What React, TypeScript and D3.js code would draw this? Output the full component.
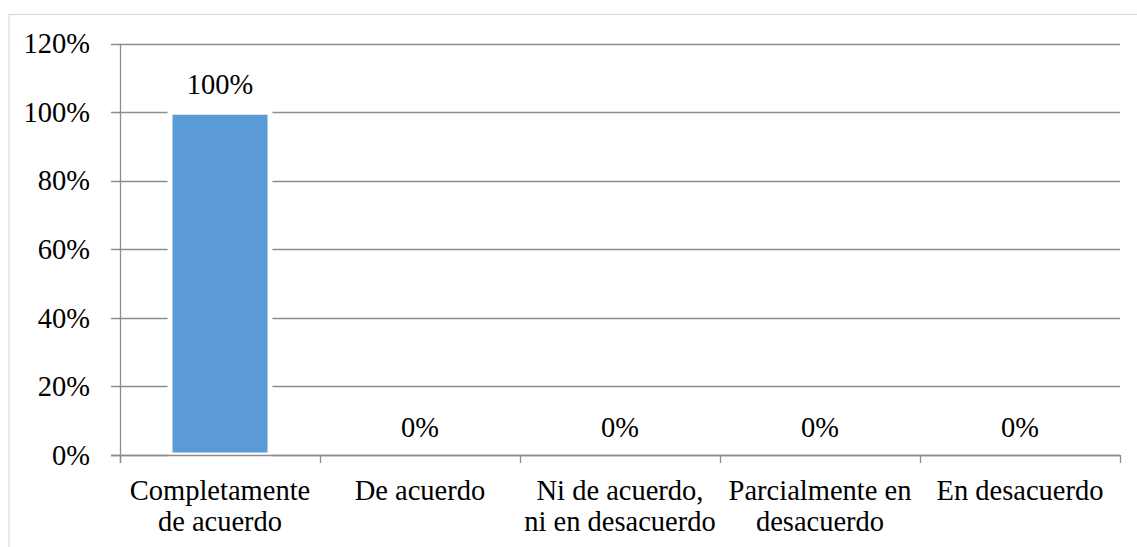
import React from "react";
import * as d3 from "d3";

const categories: string[][] = [
  ["Completamente", "de acuerdo"],
  ["De acuerdo"],
  ["Ni de acuerdo,", "ni en desacuerdo"],
  ["Parcialmente en", "desacuerdo"],
  ["En desacuerdo"],
];
const values: number[] = [1, 0, 0, 0, 0];
const valueLabels: string[] = ["100%", "0%", "0%", "0%", "0%"];
const yTicks: number[] = [0, 0.2, 0.4, 0.6, 0.8, 1.0, 1.2];

const W = 1137;
const H = 547;
const FONT = '"Liberation Serif", serif';
const textStyle: React.CSSProperties = { fontFamily: FONT, fontSize: "28.5px" };

export default function App() {
  const keys = categories.map((c) => c.join(" "));
  const x = d3
    .scaleBand<string>()
    .domain(keys)
    .range([120, 1120])
    .paddingInner(0.5)
    .paddingOuter(0.25);
  const y = d3.scaleLinear().domain([0, 1.2]).range([455, 43.7]);
  const step = x.step();
  const fmt = d3.format(".0%");
  const tickXs = keys.map((k) => (x(k) as number) - step * 0.25).concat([1120]);

  return (
    <svg
      width={W}
      height={H}
      style={{ position: "absolute", left: 0, top: 0, background: "#fff" }}
    >
      <rect x={9} y={14.5} width={W + 20} height={H + 20} fill="#fff" stroke="#d9d9d9" strokeWidth={1.2} />
      {yTicks.map((t) => (
        <g key={t}>
          <line
            x1={111}
            x2={1120}
            y1={Math.round(y(t)) + 0.5}
            y2={Math.round(y(t)) + 0.5}
            stroke="#8c8c8c"
            strokeWidth={1.3}
          />
          <text x={90} y={y(t) + 9.6} textAnchor="end" style={textStyle} fill="#000">
            {fmt(t)}
          </text>
        </g>
      ))}
      {values.map((v, i) =>
        v > 0 ? (
          <rect
            key={i}
            x={x(keys[i]) as number}
            y={y(v)}
            width={x.bandwidth()}
            height={y(0) - y(v)}
            fill="#5b9bd5"
            stroke="#fff"
            strokeWidth={5}
          />
        ) : null
      )}
      <line x1={120.5} x2={120.5} y1={y(1.2)} y2={463} stroke="#8c8c8c" strokeWidth={1.3} />
      <line x1={111} x2={1120} y1={Math.round(y(0)) + 0.5} y2={Math.round(y(0)) + 0.5} stroke="#8c8c8c" strokeWidth={1.3} />
      {tickXs.map((tx, i) => (
        <line key={i} x1={Math.round(tx) + 0.5} x2={Math.round(tx) + 0.5} y1={y(0)} y2={463} stroke="#8c8c8c" strokeWidth={1.3} />
      ))}
      {values.map((v, i) => (
        <text
          key={i}
          x={(x(keys[i]) as number) + x.bandwidth() / 2}
          y={y(v) - 18}
          textAnchor="middle"
          style={textStyle}
          fill="#000"
        >
          {valueLabels[i]}
        </text>
      ))}
      {categories.map((lines, i) => (
        <text
          key={i}
          x={(x(keys[i]) as number) + x.bandwidth() / 2}
          y={500}
          textAnchor="middle"
          style={textStyle}
          fill="#000"
        >
          {lines.map((l, j) => (
            <tspan key={j} x={(x(keys[i]) as number) + x.bandwidth() / 2} dy={j === 0 ? 0 : 31}>
              {l}
            </tspan>
          ))}
        </text>
      ))}
    </svg>
  );
}
